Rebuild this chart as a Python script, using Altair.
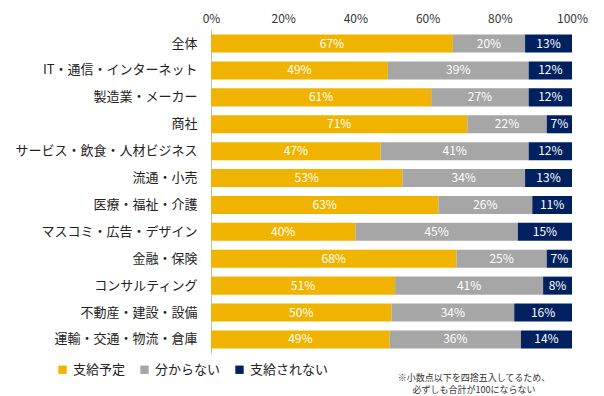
import altair as alt
import pandas as pd

categories = ["全体", "IT・通信・インターネット", "製造業・メーカー", "商社", "サービス・飲食・人材ビジネス",
              "流通・小売", "医療・福祉・介護", "マスコミ・広告・デザイン", "金融・保険", "コンサルティング",
              "不動産・建設・設備", "運輸・交通・物流・倉庫"]
series = ["支給予定", "分からない", "支給されない"]
v_plan = [67, 49, 61, 71, 47, 53, 63, 40, 68, 51, 50, 49]
v_unknown = [20, 39, 27, 22, 41, 34, 26, 45, 25, 41, 34, 36]
v_no = [13, 12, 12, 7, 12, 13, 11, 15, 7, 8, 16, 14]
colors = ["#F0B400", "#A6A6A6", "#002060"]
note_lines = ["※小数点以下を四捨五入してるため、", "必ずしも合計が100にならない"]

rows = []
for i, c in enumerate(categories):
    for j, (s, vals) in enumerate(zip(series, [v_plan, v_unknown, v_no])):
        rows.append({"cat": c, "series": s, "order": j, "value": vals[i], "label": f"{vals[i]}%"})
df = pd.DataFrame(rows)

FONT = "Noto Sans CJK JP"

base = alt.Chart(df).transform_stack(
    stack="value", groupby=["cat"], as_=["x0", "x1"], offset="normalize",
    sort=[alt.SortField("order", order="ascending")]
)

y_enc = alt.Y("cat:N", sort=categories, title=None,
              scale=alt.Scale(paddingInner=0.33, paddingOuter=0.17),
              axis=alt.Axis(ticks=False, domain=True, domainColor="#BFBFBF", labelPadding=14,
                            labelFontSize=13, labelColor="#222222", labelFont=FONT, labelLimit=300))

bars = base.mark_bar().encode(
    y=y_enc,
    x=alt.X("x0:Q", title=None, scale=alt.Scale(domain=[0, 1], nice=False),
            axis=alt.Axis(orient="top", format=".0%", values=[0, 0.2, 0.4, 0.6, 0.8, 1.0],
                          grid=False, ticks=False, domain=False, labelFontSize=12, labelFlush=False,
                          labelColor="#333333", labelFont=FONT, labelPadding=5)),
    x2="x1:Q",
    color=alt.Color("series:N", sort=series,
                    scale=alt.Scale(domain=series, range=colors),
                    legend=alt.Legend(title=None, orient="none", direction="horizontal",
                                      legendX=-155, legendY=333, symbolType="square",
                                      symbolSize=70, symbolStrokeWidth=0, labelFontSize=13,
                                      labelFont=FONT, labelColor="#222222", columnPadding=12,
                                      labelOffset=4)),
    order=alt.Order("order:Q"),
)

texts = base.transform_calculate(mid="(datum.x0 + datum.x1) / 2").mark_text(
    color="white", fontSize=12, font=FONT
).encode(
    y=alt.Y("cat:N", sort=categories),
    x="mid:Q",
    text="label:N",
)

note_df = pd.DataFrame({"line": note_lines, "i": [0, 1]})
note = alt.Chart(note_df).mark_text(fontSize=9, font=FONT, color="#333333", align="center").encode(
    x=alt.value(263),
    y=alt.value(348),
    text="line:N",
).transform_filter("datum.i == 0")
note2 = alt.Chart(note_df).mark_text(fontSize=9, font=FONT, color="#333333", align="center").encode(
    x=alt.value(263),
    y=alt.value(360),
    text="line:N",
).transform_filter("datum.i == 1")

chart = alt.layer(bars, texts, note, note2).properties(
    width=361, height=323,
    autosize=alt.AutoSizeParams(type="none"),
    padding={"left": 203, "top": 22, "right": 24, "bottom": 43},
).configure_view(stroke=None)

chart.save("out.html", embed_options={"renderer": "svg", "actions": False})
